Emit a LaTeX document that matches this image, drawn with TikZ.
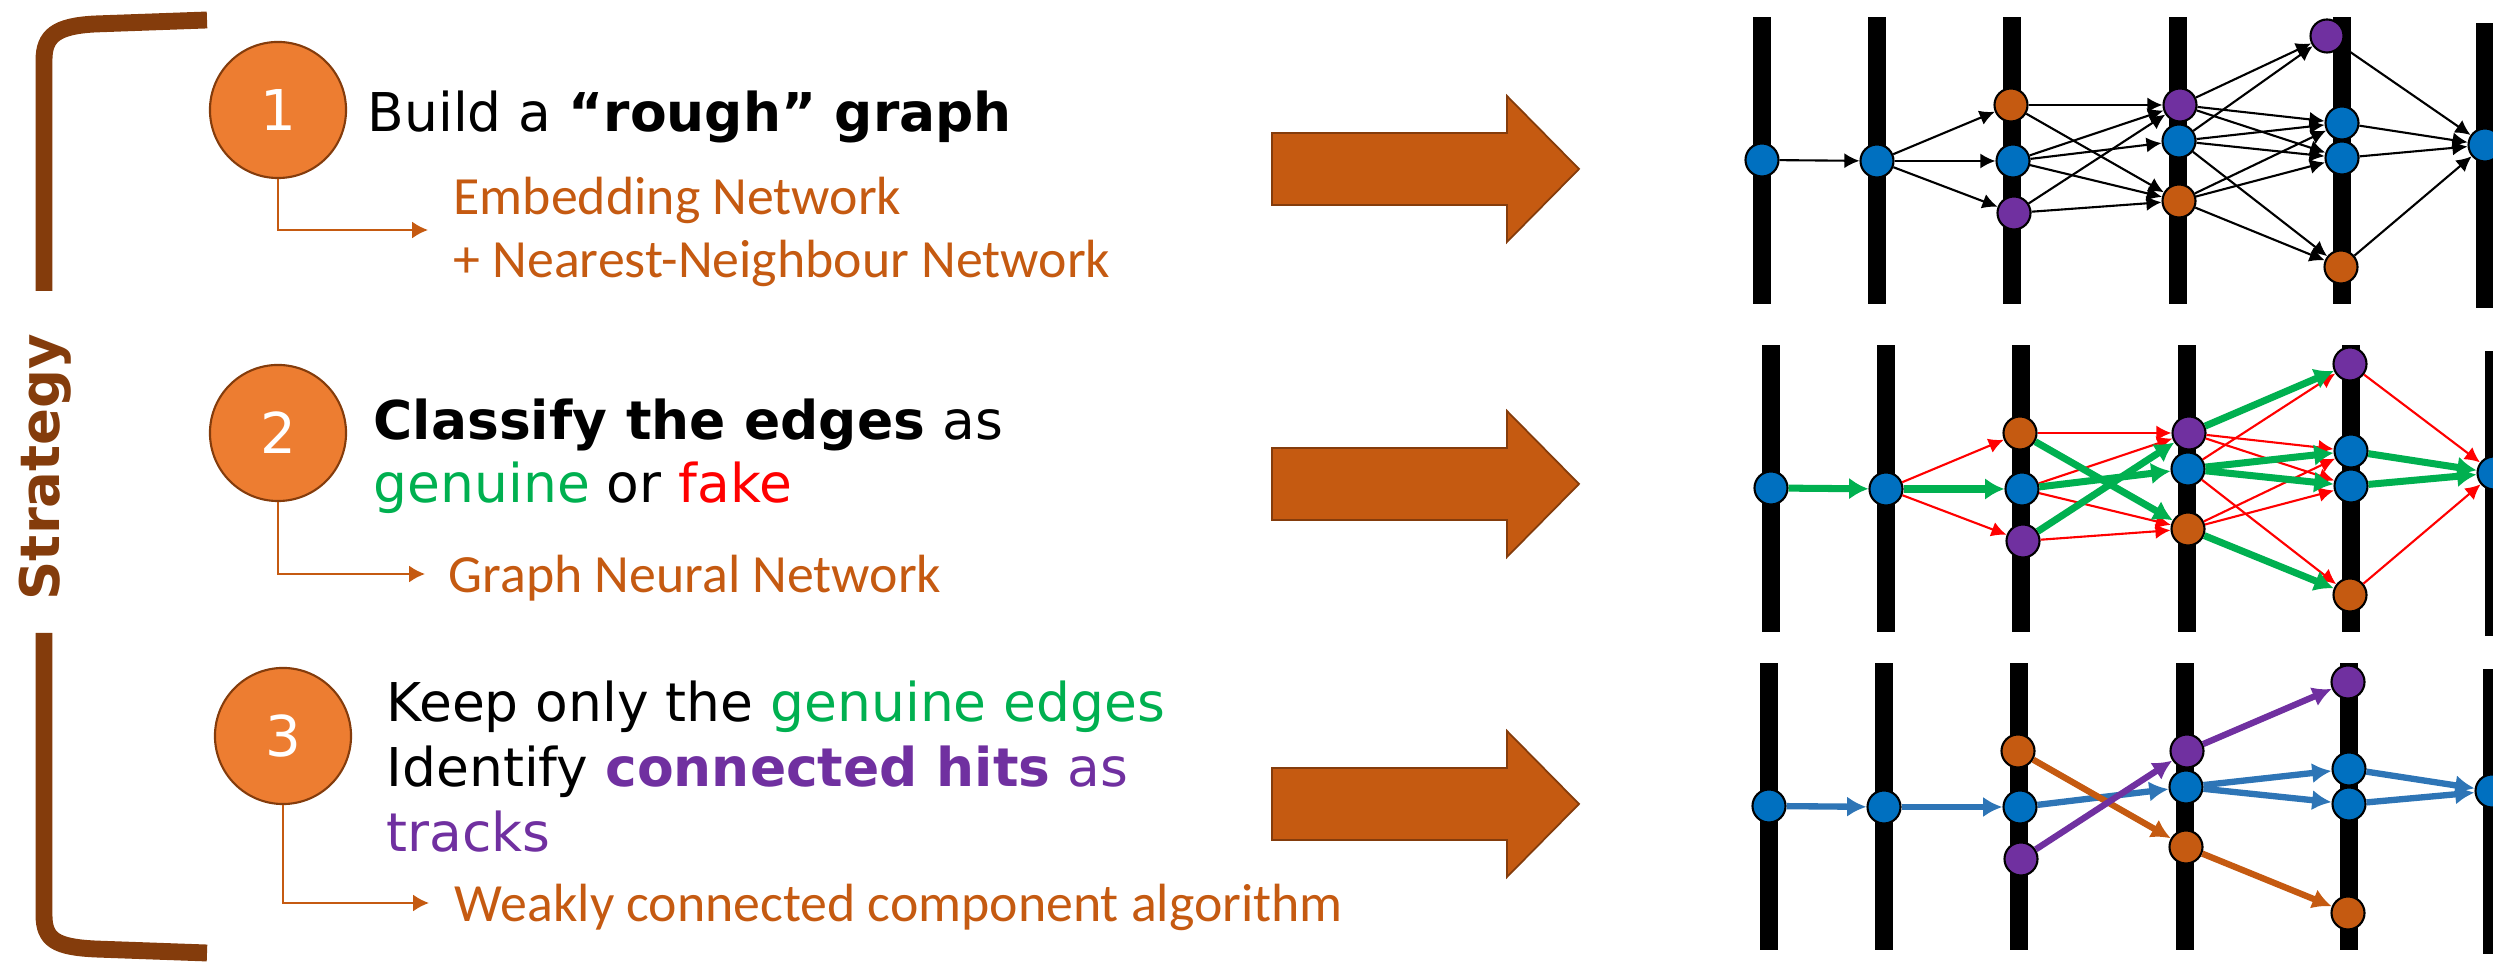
\documentclass[tikz,border=0pt]{standalone}
\usepackage{fontspec}
\setmainfont{DejaVu Sans}
\newfontfamily\califont{Carlito}
\usepackage{tikz}
\usetikzlibrary{positioning,calc,arrows.meta}

\definecolor{brk}{HTML}{843C0C}
\definecolor{rust}{HTML}{C55A11}
\definecolor{stepfill}{HTML}{ED7D31}
\definecolor{hitblue}{HTML}{0070C0}
\definecolor{hitorange}{HTML}{C55A11}
\definecolor{hitpurple}{HTML}{7030A0}
\definecolor{genuine}{HTML}{00B050}
\definecolor{fake}{HTML}{FF0000}
\definecolor{trkblue}{HTML}{2E75B6}

\tikzset{
  hit/.style={circle,draw=black,line width=0.6pt,minimum size=0.33cm,inner sep=0pt},
  stepnum/.style={circle,draw=brk,line width=0.6pt,fill=stepfill,minimum size=1.36cm,
    inner sep=0pt,text=white,font=\fontsize{16}{18}\selectfont},
  headline/.style={anchor=base west,inner sep=0pt,font=\fontsize{15.2}{18}\selectfont},
  subline/.style={anchor=base west,inner sep=0pt,text=rust,font=\califont\fontsize{15.3}{18}\selectfont},
  subarrow/.style={draw=rust,line width=0.6pt,-{Latex[length=4.5pt,width=4.8pt]}},
  bracket/.style={draw=brk,line width=4.8pt},
  bigarrow/.style={fill=rust,draw=brk,line width=0.5pt,line join=miter},
  rawedge/.style={draw=black,line width=0.6pt,-{Latex[length=4.3pt,width=4.3pt]}},
  fakeedge/.style={draw=fake,line width=0.6pt,-{Latex[length=4.3pt,width=4.3pt]}},
  trueedge/.style={draw=genuine,line width=2pt,-{Latex[length=5.5pt,width=6.2pt]}},
  trackedge/.style={line width=1.8pt,-{Latex[length=5.5pt,width=5.8pt]}},
}

% detector layers with their hits; #1 name prefix, #2/#3 position of the first hit,
% #4 x of the top hit on the fifth layer
\newcommand{\hitpanel}[4]{%
  \begin{scope}[shift={(#2,#3)}]
    \foreach \bx in {0,115,250,416,580}
      \fill[black] (\bx-9,-143) rectangle (\bx+9,144);
    \fill[black] (714,-137) rectangle (740,148);
    \node[hit,fill=hitblue] (#1-a) at (0,0) {};
    \node[hit,fill=hitblue] (#1-b) at (115,1) {};
    \node[hit,fill=hitorange] (#1-co) at (249,-55) {};
    \node[hit,fill=hitblue] (#1-cb) at (251,1) {};
    \node[hit,fill=hitpurple] (#1-cp) at (252,53) {};
    \node[hit,fill=hitpurple] (#1-dp) at (418,-55) {};
    \node[hit,fill=hitblue] (#1-db) at (417,-19) {};
    \node[hit,fill=hitorange] (#1-do) at (417,41) {};
    \node[hit,fill=hitpurple] (#1-ep) at (#4,-124) {};
    \node[hit,fill=hitblue] (#1-eb) at (580,-37) {};
    \node[hit,fill=hitblue] (#1-ec) at (580,-2) {};
    \node[hit,fill=hitorange] (#1-eo) at (579,107) {};
    \node[hit,fill=hitblue] (#1-f) at (723,-15) {};
  \end{scope}}

\begin{document}
\begin{tikzpicture}[x=0.01cm,y=-0.01cm]
\useasboundingbox (0,0) rectangle (2493,962);

% bracket on the left
\draw[bracket] (207,20) -- (95,24) .. controls (56,26) and (44,36) .. (44,60) -- (44,291);
\draw[bracket] (44,633) -- (44,915) .. controls (44,940) and (56,947) .. (95,949) -- (207,953);
\node[rotate=90,text=brk,font=\bfseries\fontsize{15.5}{18}\selectfont] (strategy) at (45,467) {Strategy};

% step 1
\node[stepnum] (n1) at (278,110) {1};
\node[headline] (build) at (367,132) {Build a \textbf{“rough” graph}};
\node[subline] (emb) at (453,215) {Embedding Network};
\node[subline] (knn) at (453,278) {+ Nearest-Neighbour Network};
\coordinate (t1) at (428,230);
\draw[subarrow] (n1.south) |- (t1);

% step 2
\node[stepnum] (n2) at (278,433) {2};
\node[headline] (classify) at (373,440) {\textbf{Classify the edges} as};
\node[headline] (gorf) at (373,503) {\textcolor{genuine}{genuine} or \textcolor{fake}{fake}};
\node[subline] (gnn) at (448,593) {Graph Neural Network};
\coordinate (t2) at (425,574);
\draw[subarrow] (n2.south) |- (t2);

% step 3
\node[stepnum] (n3) at (283,736) {3};
\node[headline] (keep) at (386,722) {Keep only the \textcolor{genuine}{genuine edges}};
\node[headline] (ident) at (386,787) {Identify \textcolor{hitpurple}{\textbf{connected hits} as}};
\node[headline,text=hitpurple] (tracks) at (386,852) {tracks};
\node[subline] (wcc) at (454,922) {Weakly connected component algorithm};
\coordinate (t3) at (429,903);
\draw[subarrow] (n3.south) |- (t3);

% block arrows
\foreach \ay in {169,484,804}
  \draw[bigarrow] (1272,\ay-36) -- (1507,\ay-36) -- (1507,\ay-73) -- (1579,\ay)
    -- (1507,\ay+73) -- (1507,\ay+36) -- (1272,\ay+36) -- cycle;

% rough graph
\hitpanel{raw}{1762}{160}{565}
\foreach \s/\t in {a/b,b/co,b/cb,b/cp,co/dp,co/do,cb/dp,cb/db,cb/do,cp/dp,cp/do,
    dp/ep,dp/eb,dp/ec,db/ep,db/eb,db/ec,db/eo,do/eb,do/ec,do/eo,ep/f,eb/f,ec/f,eo/f}
  \draw[rawedge] (raw-\s) -- (raw-\t);

% classified edges
\hitpanel{cls}{1771}{488}{579}
\foreach \s/\t in {b/co,b/cp,co/dp,cb/dp,cb/do,cp/do,dp/eb,dp/ec,db/ep,db/eo,do/eb,do/ec,ep/f,eo/f}
  \draw[fakeedge] (cls-\s) -- (cls-\t);
\foreach \s/\t in {a/b,b/cb,co/do,cb/db,cp/dp,dp/ep,db/eb,db/ec,do/eo,eb/f,ec/f}
  \draw[trueedge] (cls-\s) -- (cls-\t);

% tracks
\hitpanel{trk}{1769}{806}{579}
\foreach \s/\t in {a/b,b/cb,cb/db,db/eb,db/ec,eb/f,ec/f}
  \draw[trackedge,draw=trkblue] (trk-\s) -- (trk-\t);
\foreach \s/\t in {co/do,do/eo}
  \draw[trackedge,draw=hitorange] (trk-\s) -- (trk-\t);
\foreach \s/\t in {cp/dp,dp/ep}
  \draw[trackedge,draw=hitpurple] (trk-\s) -- (trk-\t);

\end{tikzpicture}
\end{document}
